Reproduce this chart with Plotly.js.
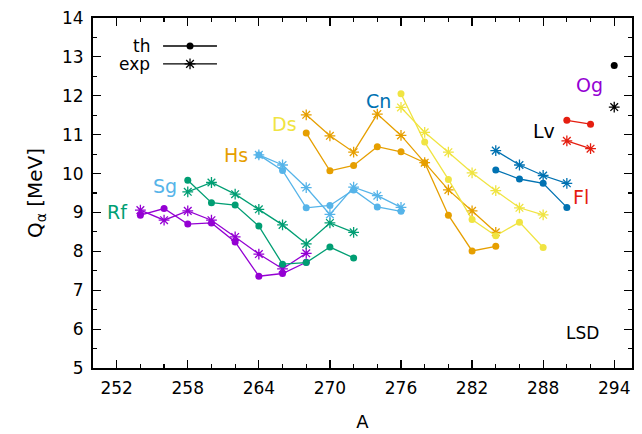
<!DOCTYPE html>
<html>
<head>
<meta charset="utf-8">
<script src="https://cdn.plot.ly/plotly-3.0.1.min.js"></script>
<style>html,body{margin:0;padding:0;background:#fff;}#chart{width:642px;height:434px;}</style>
</head>
<body>
<div id="chart"></div>
<script>
// ---- data ----
const A_Rf = [254, 256, 258, 260, 262, 264, 266, 268];
const Rf_th = [8.93, 9.10, 8.70, 8.73, 8.24, 7.36, 7.43, 7.72];
const Rf_exp = [9.06, 8.80, 9.04, 8.80, 8.37, 7.93, 7.55, 7.95];

const A_Sg = [258, 260, 262, 264, 266, 268, 270, 272];
const Sg_th = [9.83, 9.25, 9.19, 8.65, 7.67, 7.71, 8.11, 7.83];
const Sg_exp = [9.53, 9.77, 9.47, 9.08, 8.68, 8.19, 8.73, 8.49];

const A_Hs = [264, 266, 268, 270, 272, 274, 276];
const Hs_th = [10.48, 10.08, 9.12, 9.18, 9.58, 9.14, 9.03];
const Hs_exp = [10.48, 10.22, 9.64, 8.95, 9.65, 9.43, 9.13];

const A_Ds = [268, 270, 272, 274, 276, 278, 280, 282, 284];
const Ds_th = [11.04, 10.07, 10.21, 10.69, 10.56, 10.28, 8.93, 8.01, 8.13];
const Ds_exp = [11.51, 10.97, 10.55, 11.53, 10.98, 10.28, 9.58, 9.04, 8.49];

const A_Cn = [276, 278, 280, 282, 284, 286, 288];
const Cn_th = [12.05, 10.81, 9.85, 8.82, 8.40, 8.75, 8.10];
const Cn_exp = [11.70, 11.06, 10.55, 10.02, 9.56, 9.12, 8.94];

const A_Fl = [284, 286, 288, 290];
const Fl_th = [10.09, 9.86, 9.75, 9.13];
const Fl_exp = [10.59, 10.22, 9.95, 9.75];

const A_Lv = [290, 292];
const Lv_th = [11.37, 11.27];
const Lv_exp = [10.84, 10.64];

const A_Og = [294];
const Og_th = [12.78];
const Og_exp = [11.71];

const xTicks = [252, 258, 264, 270, 276, 282, 288, 294];
const yTicks = [5, 6, 7, 8, 9, 10, 11, 12, 13, 14];

// ---- styles ----
const COL = {
  purple: '#9400d3', green: '#009e73', sky: '#56b4e9', orange: '#e69f00',
  yellow: '#f0e442', blue: '#0072b2', red: '#e51e10', black: '#000000'
};
const FONT = 'DejaVu Sans, sans-serif';

function thTrace(x, y, c) {
  return {x: x, y: y, type: 'scatter', mode: 'lines+markers', showlegend: false,
    line: {color: c, width: 1.3}, marker: {symbol: 'circle', size: 7, color: c}, hoverinfo: 'skip'};
}
function expTrace(x, y, c) {
  return {x: x, y: y, type: 'scatter', mode: 'lines+markers', showlegend: false,
    line: {color: c, width: 1.3}, marker: {symbol: 'asterisk', size: 9, color: c, line: {color: c, width: 1.3}}, hoverinfo: 'skip'};
}

const chains = [
  [A_Rf, Rf_th, Rf_exp, COL.purple],
  [A_Sg, Sg_th, Sg_exp, COL.green],
  [A_Hs, Hs_th, Hs_exp, COL.sky],
  [A_Ds, Ds_th, Ds_exp, COL.orange],
  [A_Cn, Cn_th, Cn_exp, COL.yellow],
  [A_Fl, Fl_th, Fl_exp, COL.blue],
  [A_Lv, Lv_th, Lv_exp, COL.red],
  [A_Og, Og_th, Og_exp, COL.black]
];
const traces = [];
chains.forEach(ch => {
  traces.push(thTrace(ch[0], ch[1], ch[3]));
  traces.push(expTrace(ch[0], ch[2], ch[3]));
});

// legend key (drawn on an overlay axis in 0..1 units)
const KX = [0.13, 0.23], KXM = 0.18, KY_TH = 0.92, KY_EXP = 0.869;
traces.push({x: KX, y: [KY_TH, KY_TH], xaxis: 'x2', yaxis: 'y2', mode: 'lines', type: 'scatter', showlegend: false,
  line: {color: '#000', width: 1.3}, hoverinfo: 'skip'});
traces.push({x: [KXM], y: [KY_TH], xaxis: 'x2', yaxis: 'y2', mode: 'markers', type: 'scatter', showlegend: false,
  marker: {symbol: 'circle', size: 7, color: '#000'}, hoverinfo: 'skip'});
traces.push({x: KX, y: [KY_EXP, KY_EXP], xaxis: 'x2', yaxis: 'y2', mode: 'lines', type: 'scatter', showlegend: false,
  line: {color: '#000', width: 1.3}, hoverinfo: 'skip'});
traces.push({x: [KXM], y: [KY_EXP], xaxis: 'x2', yaxis: 'y2', mode: 'markers', type: 'scatter', showlegend: false,
  marker: {symbol: 'asterisk', size: 9, color: '#000', line: {color: '#000', width: 1.3}}, hoverinfo: 'skip'});

function lab(text, x, y, c, extra) {
  return Object.assign({text: text, x: x, y: y, xref: 'x', yref: 'y', showarrow: false,
    xanchor: 'center', yanchor: 'middle', font: {family: FONT, size: 19, color: c}}, extra || {});
}

const annotations = [
  lab('Rf', 252.1, 9.01, COL.green),
  lab('Sg', 256.1, 9.68, COL.sky),
  lab('Hs', 262.1, 10.48, COL.orange),
  lab('Ds', 266.2, 11.27, COL.yellow),
  lab('Cn', 274.1, 11.87, COL.blue),
  lab('Lv', 288.1, 11.09, COL.black),
  lab('Fl', 291.2, 9.40, COL.red),
  lab('Og', 291.9, 12.28, COL.purple),
  lab('LSD', 291.3, 5.89, COL.black, {font: {family: FONT, size: 17, color: '#000'}}),
  {text: 'th', x: 0.109, y: KY_TH, xref: 'x2', yref: 'y2', showarrow: false, xanchor: 'right', yanchor: 'middle',
    font: {family: FONT, size: 17, color: '#000'}},
  {text: 'exp', x: 0.109, y: KY_EXP, xref: 'x2', yref: 'y2', showarrow: false, xanchor: 'right', yanchor: 'middle',
    font: {family: FONT, size: 17, color: '#000'}}
];

const axisCommon = {
  showline: true, linecolor: '#000', linewidth: 2, mirror: 'allticks',
  ticks: 'inside', ticklen: 8, tickwidth: 1.2, tickcolor: '#000',
  showgrid: false, zeroline: false,
  tickfont: {family: FONT, size: 17, color: '#000'}
};

const layout = {
  width: 642, height: 434,
  margin: {l: 93, r: 10, t: 18, b: 66},
  paper_bgcolor: '#fff', plot_bgcolor: '#fff',
  showlegend: false,
  xaxis: Object.assign({}, axisCommon, {
    range: [250, 295.5], tickmode: 'array', tickvals: xTicks, ticktext: xTicks.map(String),
    minor: {dtick: 2, tick0: 250, ticks: 'inside', ticklen: 4, tickwidth: 1.2, tickcolor: '#000'},
    ticklabelstandoff: 4,
    title: {text: 'A', font: {family: FONT, size: 18, color: '#000'}, standoff: 18}
  }),
  yaxis: Object.assign({}, axisCommon, {
    range: [5, 14], tickmode: 'array', tickvals: yTicks, ticktext: yTicks.map(String),
    minor: {dtick: 0.5, tick0: 5, ticks: 'inside', ticklen: 4, tickwidth: 1.2, tickcolor: '#000'},
    ticklabelstandoff: 4,
    title: {text: 'Q<sub>α</sub> [MeV]', font: {family: FONT, size: 20, color: '#000'}, standoff: 14}
  }),
  xaxis2: {overlaying: 'x', range: [0, 1], visible: false, fixedrange: true},
  yaxis2: {overlaying: 'y', range: [0, 1], visible: false, fixedrange: true},
  annotations: annotations
};

Plotly.newPlot('chart', traces, layout, {staticPlot: true, displayModeBar: false});
</script>
</body>
</html>
